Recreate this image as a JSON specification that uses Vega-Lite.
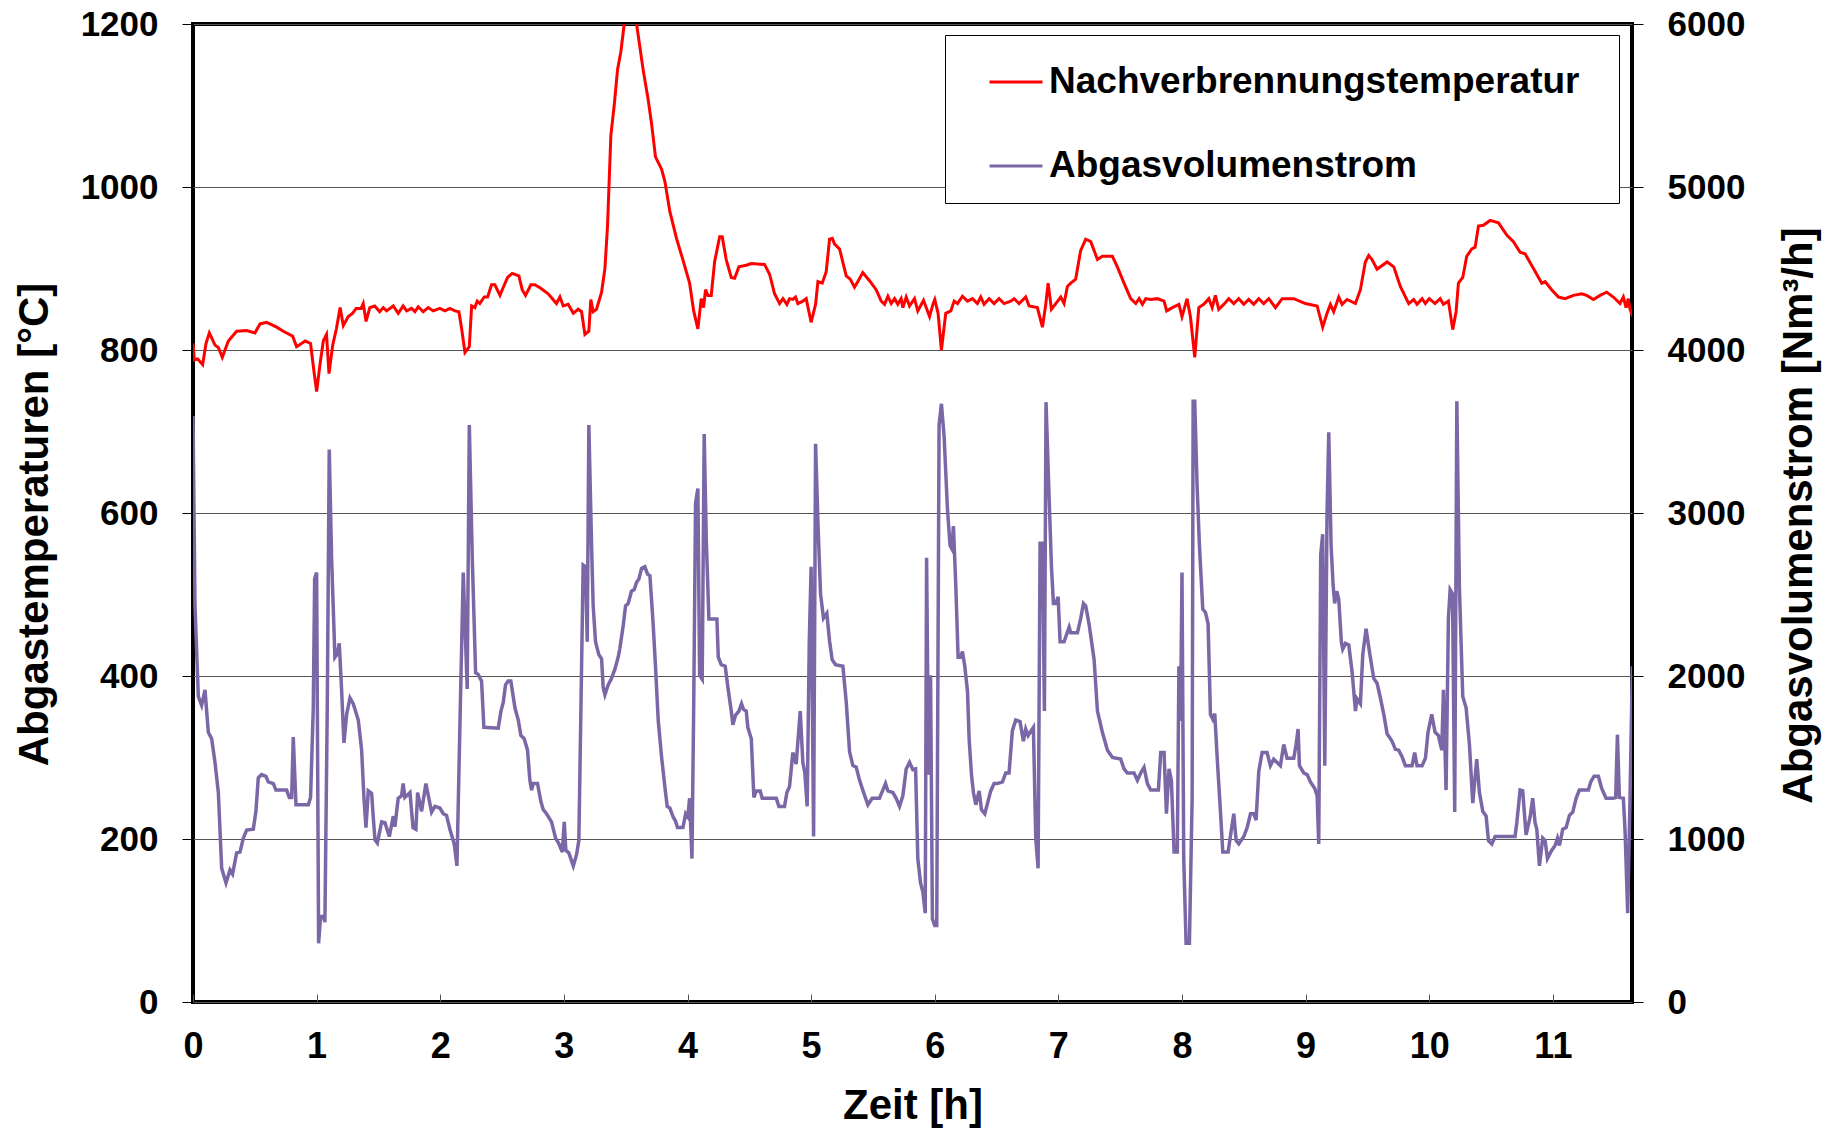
{
  "$schema": "https://vega.github.io/schema/vega-lite/v6.json",
  "width": 1439,
  "height": 978,
  "autosize": {"type": "none"},
  "padding": {"left": 193, "top": 24, "right": 193, "bottom": 126},
  "background": "white",
  "config": {
    "view": {"stroke": "black", "strokeWidth": 4},
    "font": "Liberation Sans",
    "axis": {
      "labelFont": "Liberation Sans",
      "labelFontWeight": "bold",
      "labelFontSize": 35,
      "labelColor": "black",
      "titleFont": "Liberation Sans",
      "titleFontWeight": "bold",
      "titleFontSize": 42,
      "titleColor": "black",
      "domain": false,
      "labelOverlap": false,
      "labelFlush": false
    }
  },
  "datasets": {
    "temp": [
      {"t":0,"v":808},{"t":0.011,"v":788},{"t":0.038,"v":789},{"t":0.078,"v":782},{"t":0.105,"v":808},{"t":0.132,"v":821},{"t":0.178,"v":806},{"t":0.205,"v":803},{"t":0.237,"v":791},{"t":0.286,"v":811},{"t":0.353,"v":823},{"t":0.434,"v":824},{"t":0.501,"v":821},{"t":0.542,"v":832},{"t":0.596,"v":834},{"t":0.677,"v":828},{"t":0.73,"v":823},{"t":0.806,"v":817},{"t":0.838,"v":804},{"t":0.908,"v":811},{"t":0.951,"v":808},{"t":0.978,"v":774},{"t":1.0,"v":749},{"t":1.027,"v":782},{"t":1.054,"v":811},{"t":1.08,"v":819},{"t":1.1,"v":771},{"t":1.13,"v":806},{"t":1.16,"v":826},{"t":1.19,"v":852},{"t":1.216,"v":830},{"t":1.256,"v":841},{"t":1.29,"v":845},{"t":1.32,"v":851},{"t":1.36,"v":851},{"t":1.377,"v":857},{"t":1.4,"v":835},{"t":1.43,"v":852},{"t":1.47,"v":854},{"t":1.51,"v":847},{"t":1.539,"v":852},{"t":1.566,"v":848},{"t":1.62,"v":854},{"t":1.66,"v":845},{"t":1.7,"v":854},{"t":1.728,"v":848},{"t":1.768,"v":851},{"t":1.795,"v":847},{"t":1.822,"v":853},{"t":1.862,"v":847},{"t":1.903,"v":852},{"t":1.943,"v":848},{"t":1.997,"v":851},{"t":2.038,"v":848},{"t":2.078,"v":851},{"t":2.119,"v":848},{"t":2.151,"v":847},{"t":2.173,"v":826},{"t":2.2,"v":797},{"t":2.235,"v":804},{"t":2.254,"v":854},{"t":2.28,"v":852},{"t":2.299,"v":860},{"t":2.32,"v":857},{"t":2.356,"v":865},{"t":2.383,"v":865},{"t":2.415,"v":880},{"t":2.442,"v":880},{"t":2.483,"v":867},{"t":2.51,"v":877},{"t":2.545,"v":889},{"t":2.582,"v":894},{"t":2.636,"v":891},{"t":2.663,"v":874},{"t":2.69,"v":867},{"t":2.733,"v":880},{"t":2.765,"v":880},{"t":2.81,"v":876},{"t":2.873,"v":869},{"t":2.94,"v":857},{"t":2.968,"v":865},{"t":2.995,"v":854},{"t":3.035,"v":856},{"t":3.076,"v":845},{"t":3.116,"v":850},{"t":3.143,"v":847},{"t":3.17,"v":819},{"t":3.202,"v":823},{"t":3.218,"v":862},{"t":3.237,"v":847},{"t":3.264,"v":850},{"t":3.305,"v":871},{"t":3.332,"v":900},{"t":3.353,"v":952},{"t":3.38,"v":1063},{"t":3.407,"v":1100},{"t":3.434,"v":1144},{"t":3.461,"v":1166},{"t":3.488,"v":1200},{"t":3.52,"v":1230},{"t":3.56,"v":1230},{"t":3.588,"v":1200},{"t":3.641,"v":1144},{"t":3.682,"v":1107},{"t":3.709,"v":1078},{"t":3.741,"v":1037},{"t":3.79,"v":1022},{"t":3.817,"v":1007},{"t":3.857,"v":970},{"t":3.911,"v":937},{"t":3.964,"v":910},{"t":4.017,"v":882},{"t":4.05,"v":848},{"t":4.084,"v":826},{"t":4.111,"v":863},{"t":4.13,"v":852},{"t":4.146,"v":874},{"t":4.165,"v":867},{"t":4.192,"v":867},{"t":4.219,"v":908},{"t":4.26,"v":939},{"t":4.281,"v":939},{"t":4.313,"v":911},{"t":4.354,"v":889},{"t":4.381,"v":888},{"t":4.416,"v":902},{"t":4.475,"v":904},{"t":4.516,"v":906},{"t":4.623,"v":905},{"t":4.664,"v":893},{"t":4.704,"v":869},{"t":4.745,"v":857},{"t":4.772,"v":863},{"t":4.804,"v":856},{"t":4.825,"v":863},{"t":4.852,"v":862},{"t":4.874,"v":865},{"t":4.893,"v":857},{"t":4.933,"v":860},{"t":4.96,"v":863},{"t":5.0,"v":834},{"t":5.036,"v":856},{"t":5.055,"v":884},{"t":5.09,"v":882},{"t":5.122,"v":896},{"t":5.149,"v":936},{"t":5.171,"v":937},{"t":5.19,"v":930},{"t":5.23,"v":924},{"t":5.284,"v":891},{"t":5.316,"v":887},{"t":5.351,"v":877},{"t":5.378,"v":884},{"t":5.418,"v":895},{"t":5.472,"v":885},{"t":5.526,"v":874},{"t":5.567,"v":860},{"t":5.594,"v":856},{"t":5.621,"v":866},{"t":5.648,"v":857},{"t":5.675,"v":863},{"t":5.701,"v":856},{"t":5.728,"v":863},{"t":5.742,"v":852},{"t":5.769,"v":865},{"t":5.796,"v":854},{"t":5.836,"v":863},{"t":5.863,"v":848},{"t":5.909,"v":861},{"t":5.958,"v":841},{"t":5.985,"v":856},{"t":6.0,"v":862},{"t":6.027,"v":845},{"t":6.054,"v":800},{"t":6.089,"v":845},{"t":6.13,"v":848},{"t":6.157,"v":860},{"t":6.184,"v":857},{"t":6.224,"v":866},{"t":6.265,"v":860},{"t":6.305,"v":863},{"t":6.345,"v":857},{"t":6.372,"v":865},{"t":6.399,"v":856},{"t":6.44,"v":863},{"t":6.48,"v":857},{"t":6.52,"v":863},{"t":6.561,"v":857},{"t":6.615,"v":860},{"t":6.642,"v":863},{"t":6.682,"v":857},{"t":6.736,"v":865},{"t":6.763,"v":854},{"t":6.83,"v":852},{"t":6.871,"v":828},{"t":6.898,"v":856},{"t":6.917,"v":882},{"t":6.944,"v":850},{"t":6.979,"v":857},{"t":7.019,"v":865},{"t":7.046,"v":857},{"t":7.073,"v":878},{"t":7.1,"v":882},{"t":7.14,"v":887},{"t":7.18,"v":922},{"t":7.221,"v":936},{"t":7.262,"v":933},{"t":7.316,"v":911},{"t":7.356,"v":915},{"t":7.437,"v":915},{"t":7.477,"v":902},{"t":7.531,"v":882},{"t":7.585,"v":863},{"t":7.626,"v":857},{"t":7.653,"v":863},{"t":7.68,"v":856},{"t":7.707,"v":863},{"t":7.747,"v":862},{"t":7.801,"v":863},{"t":7.855,"v":860},{"t":7.876,"v":848},{"t":7.922,"v":852},{"t":7.975,"v":856},{"t":8.0,"v":841},{"t":8.041,"v":863},{"t":8.068,"v":841},{"t":8.103,"v":791},{"t":8.136,"v":852},{"t":8.176,"v":856},{"t":8.217,"v":863},{"t":8.244,"v":852},{"t":8.27,"v":867},{"t":8.297,"v":850},{"t":8.338,"v":856},{"t":8.378,"v":863},{"t":8.419,"v":857},{"t":8.459,"v":863},{"t":8.5,"v":856},{"t":8.54,"v":862},{"t":8.58,"v":856},{"t":8.621,"v":863},{"t":8.661,"v":857},{"t":8.702,"v":863},{"t":8.756,"v":852},{"t":8.81,"v":863},{"t":8.904,"v":863},{"t":8.998,"v":857},{"t":9.093,"v":854},{"t":9.138,"v":828},{"t":9.173,"v":845},{"t":9.2,"v":856},{"t":9.227,"v":847},{"t":9.268,"v":865},{"t":9.295,"v":856},{"t":9.335,"v":862},{"t":9.403,"v":857},{"t":9.443,"v":874},{"t":9.483,"v":908},{"t":9.51,"v":916},{"t":9.537,"v":911},{"t":9.578,"v":899},{"t":9.659,"v":908},{"t":9.713,"v":902},{"t":9.766,"v":878},{"t":9.834,"v":857},{"t":9.874,"v":862},{"t":9.901,"v":856},{"t":9.942,"v":863},{"t":9.969,"v":857},{"t":10.0,"v":863},{"t":10.047,"v":857},{"t":10.088,"v":863},{"t":10.115,"v":856},{"t":10.155,"v":860},{"t":10.19,"v":825},{"t":10.217,"v":847},{"t":10.236,"v":882},{"t":10.271,"v":889},{"t":10.303,"v":915},{"t":10.344,"v":924},{"t":10.371,"v":926},{"t":10.398,"v":952},{"t":10.438,"v":953},{"t":10.492,"v":959},{"t":10.56,"v":956},{"t":10.627,"v":941},{"t":10.681,"v":933},{"t":10.735,"v":920},{"t":10.775,"v":918},{"t":10.843,"v":900},{"t":10.91,"v":882},{"t":10.937,"v":884},{"t":10.99,"v":874},{"t":11.045,"v":865},{"t":11.099,"v":863},{"t":11.166,"v":867},{"t":11.233,"v":869},{"t":11.273,"v":867},{"t":11.328,"v":862},{"t":11.382,"v":867},{"t":11.435,"v":871},{"t":11.489,"v":865},{"t":11.543,"v":857},{"t":11.57,"v":865},{"t":11.592,"v":852},{"t":11.61,"v":863},{"t":11.624,"v":850},{"t":11.646,"v":841}
    ],
    "flow": [
      {"t":0,"v":3595},{"t":0.016,"v":2430},{"t":0.043,"v":1875},{"t":0.07,"v":1820},{"t":0.097,"v":1915},{"t":0.124,"v":1655},{"t":0.151,"v":1615},{"t":0.178,"v":1470},{"t":0.205,"v":1285},{"t":0.232,"v":820},{"t":0.267,"v":730},{"t":0.299,"v":810},{"t":0.32,"v":785},{"t":0.353,"v":915},{"t":0.38,"v":920},{"t":0.407,"v":1005},{"t":0.434,"v":1055},{"t":0.488,"v":1060},{"t":0.509,"v":1170},{"t":0.528,"v":1375},{"t":0.555,"v":1395},{"t":0.59,"v":1385},{"t":0.609,"v":1350},{"t":0.65,"v":1340},{"t":0.671,"v":1300},{"t":0.757,"v":1300},{"t":0.779,"v":1255},{"t":0.798,"v":1255},{"t":0.811,"v":1625},{"t":0.833,"v":1210},{"t":0.933,"v":1210},{"t":0.951,"v":1255},{"t":0.973,"v":1805},{"t":0.984,"v":2595},{"t":1.0,"v":2635},{"t":1.016,"v":360},{"t":1.032,"v":525},{"t":1.054,"v":525},{"t":1.067,"v":490},{"t":1.086,"v":1805},{"t":1.102,"v":3390},{"t":1.121,"v":2725},{"t":1.148,"v":2115},{"t":1.167,"v":2135},{"t":1.183,"v":2200},{"t":1.202,"v":1915},{"t":1.221,"v":1590},{"t":1.243,"v":1765},{"t":1.27,"v":1865},{"t":1.296,"v":1830},{"t":1.337,"v":1730},{"t":1.364,"v":1545},{"t":1.383,"v":1250},{"t":1.399,"v":1070},{"t":1.418,"v":1295},{"t":1.445,"v":1280},{"t":1.458,"v":1135},{"t":1.472,"v":995},{"t":1.491,"v":975},{"t":1.526,"v":1105},{"t":1.553,"v":1100},{"t":1.588,"v":1015},{"t":1.62,"v":1140},{"t":1.633,"v":1075},{"t":1.66,"v":1250},{"t":1.687,"v":1265},{"t":1.7,"v":1340},{"t":1.714,"v":1255},{"t":1.755,"v":1285},{"t":1.78,"v":1070},{"t":1.803,"v":1060},{"t":1.817,"v":1285},{"t":1.849,"v":1170},{"t":1.884,"v":1340},{"t":1.93,"v":1165},{"t":1.957,"v":1200},{"t":1.997,"v":1190},{"t":2.024,"v":1155},{"t":2.051,"v":1145},{"t":2.078,"v":1060},{"t":2.113,"v":970},{"t":2.135,"v":835},{"t":2.159,"v":1695},{"t":2.186,"v":2635},{"t":2.218,"v":1920},{"t":2.235,"v":3540},{"t":2.259,"v":2725},{"t":2.286,"v":2020},{"t":2.307,"v":2010},{"t":2.334,"v":1970},{"t":2.353,"v":1685},{"t":2.469,"v":1680},{"t":2.491,"v":1785},{"t":2.51,"v":1840},{"t":2.528,"v":1945},{"t":2.55,"v":1970},{"t":2.571,"v":1970},{"t":2.604,"v":1805},{"t":2.631,"v":1730},{"t":2.652,"v":1635},{"t":2.679,"v":1615},{"t":2.706,"v":1545},{"t":2.725,"v":1360},{"t":2.739,"v":1300},{"t":2.752,"v":1340},{"t":2.787,"v":1340},{"t":2.814,"v":1230},{"t":2.833,"v":1180},{"t":2.86,"v":1155},{"t":2.9,"v":1105},{"t":2.933,"v":1005},{"t":2.96,"v":970},{"t":2.987,"v":920},{"t":3.003,"v":1105},{"t":3.016,"v":930},{"t":3.04,"v":915},{"t":3.076,"v":835},{"t":3.103,"v":905},{"t":3.121,"v":990},{"t":3.138,"v":1805},{"t":3.156,"v":2680},{"t":3.175,"v":2670},{"t":3.189,"v":2210},{"t":3.202,"v":3540},{"t":3.224,"v":2800},{"t":3.237,"v":2430},{"t":3.256,"v":2210},{"t":3.283,"v":2130},{"t":3.305,"v":2105},{"t":3.318,"v":1930},{"t":3.332,"v":1885},{"t":3.358,"v":1945},{"t":3.385,"v":1985},{"t":3.412,"v":2040},{"t":3.439,"v":2115},{"t":3.453,"v":2170},{"t":3.48,"v":2310},{"t":3.499,"v":2430},{"t":3.52,"v":2445},{"t":3.547,"v":2520},{"t":3.569,"v":2530},{"t":3.588,"v":2575},{"t":3.607,"v":2595},{"t":3.628,"v":2660},{"t":3.655,"v":2670},{"t":3.677,"v":2625},{"t":3.696,"v":2615},{"t":3.722,"v":2320},{"t":3.741,"v":2060},{"t":3.763,"v":1730},{"t":3.79,"v":1505},{"t":3.817,"v":1320},{"t":3.836,"v":1200},{"t":3.857,"v":1190},{"t":3.884,"v":1135},{"t":3.903,"v":1110},{"t":3.919,"v":1070},{"t":3.963,"v":1070},{"t":3.985,"v":1155},{"t":4.003,"v":1135},{"t":4.017,"v":1250},{"t":4.036,"v":880},{"t":4.05,"v":1805},{"t":4.065,"v":3060},{"t":4.084,"v":3150},{"t":4.098,"v":2005},{"t":4.119,"v":1980},{"t":4.135,"v":3485},{"t":4.152,"v":2835},{"t":4.173,"v":2350},{"t":4.238,"v":2350},{"t":4.249,"v":2115},{"t":4.273,"v":2070},{"t":4.305,"v":2060},{"t":4.327,"v":1930},{"t":4.354,"v":1785},{"t":4.367,"v":1700},{"t":4.389,"v":1760},{"t":4.416,"v":1785},{"t":4.437,"v":1830},{"t":4.453,"v":1795},{"t":4.475,"v":1785},{"t":4.488,"v":1685},{"t":4.516,"v":1615},{"t":4.537,"v":1255},{"t":4.556,"v":1295},{"t":4.588,"v":1295},{"t":4.604,"v":1250},{"t":4.718,"v":1250},{"t":4.739,"v":1200},{"t":4.785,"v":1200},{"t":4.804,"v":1285},{"t":4.825,"v":1320},{"t":4.852,"v":1530},{"t":4.879,"v":1460},{"t":4.912,"v":1785},{"t":4.933,"v":1470},{"t":4.949,"v":1405},{"t":4.968,"v":1200},{"t":4.985,"v":2210},{"t":5.0,"v":2670},{"t":5.02,"v":1015},{"t":5.036,"v":3425},{"t":5.055,"v":2945},{"t":5.076,"v":2505},{"t":5.1,"v":2355},{"t":5.127,"v":2385},{"t":5.149,"v":2215},{"t":5.17,"v":2100},{"t":5.197,"v":2070},{"t":5.257,"v":2060},{"t":5.284,"v":1840},{"t":5.311,"v":1535},{"t":5.338,"v":1450},{"t":5.365,"v":1440},{"t":5.392,"v":1360},{"t":5.418,"v":1300},{"t":5.459,"v":1210},{"t":5.494,"v":1250},{"t":5.553,"v":1250},{"t":5.58,"v":1300},{"t":5.602,"v":1340},{"t":5.621,"v":1295},{"t":5.661,"v":1285},{"t":5.688,"v":1250},{"t":5.715,"v":1200},{"t":5.742,"v":1265},{"t":5.769,"v":1430},{"t":5.796,"v":1470},{"t":5.823,"v":1425},{"t":5.845,"v":1430},{"t":5.863,"v":880},{"t":5.885,"v":730},{"t":5.904,"v":675},{"t":5.923,"v":545},{"t":5.934,"v":2725},{"t":5.95,"v":1395},{"t":5.966,"v":2005},{"t":5.981,"v":510},{"t":6.0,"v":470},{"t":6.016,"v":470},{"t":6.035,"v":3540},{"t":6.054,"v":3670},{"t":6.076,"v":3465},{"t":6.103,"v":3020},{"t":6.124,"v":2800},{"t":6.138,"v":2780},{"t":6.151,"v":2920},{"t":6.17,"v":2560},{"t":6.189,"v":2115},{"t":6.21,"v":2115},{"t":6.224,"v":2150},{"t":6.243,"v":2060},{"t":6.265,"v":1905},{"t":6.278,"v":1615},{"t":6.297,"v":1395},{"t":6.313,"v":1285},{"t":6.332,"v":1210},{"t":6.359,"v":1295},{"t":6.378,"v":1180},{"t":6.405,"v":1155},{"t":6.453,"v":1295},{"t":6.48,"v":1340},{"t":6.507,"v":1340},{"t":6.548,"v":1350},{"t":6.574,"v":1405},{"t":6.601,"v":1405},{"t":6.628,"v":1665},{"t":6.655,"v":1730},{"t":6.69,"v":1720},{"t":6.717,"v":1600},{"t":6.736,"v":1675},{"t":6.755,"v":1635},{"t":6.798,"v":1685},{"t":6.817,"v":1005},{"t":6.836,"v":820},{"t":6.852,"v":2815},{"t":6.871,"v":2815},{"t":6.887,"v":1785},{"t":6.9,"v":3680},{"t":6.925,"v":3095},{"t":6.944,"v":2670},{"t":6.96,"v":2445},{"t":6.979,"v":2445},{"t":6.998,"v":2485},{"t":7.014,"v":2210},{"t":7.046,"v":2210},{"t":7.087,"v":2300},{"t":7.1,"v":2265},{"t":7.154,"v":2265},{"t":7.181,"v":2355},{"t":7.203,"v":2445},{"t":7.221,"v":2430},{"t":7.248,"v":2320},{"t":7.289,"v":2100},{"t":7.316,"v":1785},{"t":7.356,"v":1655},{"t":7.397,"v":1545},{"t":7.437,"v":1500},{"t":7.504,"v":1490},{"t":7.531,"v":1430},{"t":7.558,"v":1405},{"t":7.612,"v":1405},{"t":7.639,"v":1360},{"t":7.666,"v":1405},{"t":7.693,"v":1440},{"t":7.72,"v":1340},{"t":7.747,"v":1300},{"t":7.809,"v":1300},{"t":7.828,"v":1530},{"t":7.855,"v":1530},{"t":7.874,"v":1155},{"t":7.895,"v":1430},{"t":7.914,"v":1360},{"t":7.936,"v":920},{"t":7.962,"v":920},{"t":7.975,"v":2060},{"t":7.988,"v":1725},{"t":8.0,"v":2635},{"t":8.014,"v":880},{"t":8.033,"v":360},{"t":8.06,"v":360},{"t":8.082,"v":1250},{"t":8.09,"v":3685},{"t":8.103,"v":3685},{"t":8.122,"v":3170},{"t":8.141,"v":2800},{"t":8.168,"v":2410},{"t":8.19,"v":2390},{"t":8.211,"v":2320},{"t":8.23,"v":1765},{"t":8.249,"v":1735},{"t":8.265,"v":1770},{"t":8.284,"v":1505},{"t":8.311,"v":1170},{"t":8.33,"v":920},{"t":8.373,"v":920},{"t":8.4,"v":1060},{"t":8.419,"v":1155},{"t":8.438,"v":990},{"t":8.459,"v":970},{"t":8.5,"v":1015},{"t":8.527,"v":1070},{"t":8.554,"v":1155},{"t":8.581,"v":1155},{"t":8.599,"v":1115},{"t":8.621,"v":1415},{"t":8.648,"v":1530},{"t":8.688,"v":1530},{"t":8.715,"v":1450},{"t":8.742,"v":1490},{"t":8.769,"v":1470},{"t":8.796,"v":1450},{"t":8.823,"v":1580},{"t":8.85,"v":1495},{"t":8.904,"v":1495},{"t":8.923,"v":1580},{"t":8.939,"v":1675},{"t":8.95,"v":1450},{"t":8.985,"v":1405},{"t":9.012,"v":1395},{"t":9.039,"v":1350},{"t":9.074,"v":1310},{"t":9.093,"v":1265},{"t":9.106,"v":970},{"t":9.122,"v":2745},{"t":9.138,"v":2870},{"t":9.155,"v":1450},{"t":9.173,"v":2985},{"t":9.187,"v":3495},{"t":9.206,"v":2800},{"t":9.222,"v":2560},{"t":9.235,"v":2445},{"t":9.252,"v":2520},{"t":9.268,"v":2470},{"t":9.289,"v":2210},{"t":9.3,"v":2165},{"t":9.322,"v":2200},{"t":9.349,"v":2190},{"t":9.376,"v":2025},{"t":9.403,"v":1785},{"t":9.416,"v":1860},{"t":9.443,"v":1830},{"t":9.462,"v":2130},{"t":9.489,"v":2290},{"t":9.516,"v":2150},{"t":9.551,"v":1985},{"t":9.578,"v":1955},{"t":9.605,"v":1865},{"t":9.632,"v":1765},{"t":9.659,"v":1645},{"t":9.678,"v":1625},{"t":9.699,"v":1600},{"t":9.726,"v":1550},{"t":9.753,"v":1545},{"t":9.78,"v":1505},{"t":9.807,"v":1450},{"t":9.861,"v":1450},{"t":9.882,"v":1530},{"t":9.901,"v":1450},{"t":9.942,"v":1450},{"t":9.969,"v":1495},{"t":9.99,"v":1655},{"t":10.02,"v":1765},{"t":10.047,"v":1655},{"t":10.074,"v":1635},{"t":10.101,"v":1545},{"t":10.115,"v":1915},{"t":10.136,"v":1300},{"t":10.155,"v":2355},{"t":10.169,"v":2530},{"t":10.188,"v":2505},{"t":10.206,"v":1165},{"t":10.223,"v":3685},{"t":10.244,"v":2540},{"t":10.271,"v":1875},{"t":10.298,"v":1805},{"t":10.325,"v":1580},{"t":10.352,"v":1220},{"t":10.384,"v":1490},{"t":10.406,"v":1285},{"t":10.433,"v":1170},{"t":10.46,"v":1140},{"t":10.479,"v":990},{"t":10.506,"v":970},{"t":10.533,"v":1015},{"t":10.694,"v":1015},{"t":10.708,"v":1100},{"t":10.735,"v":1300},{"t":10.756,"v":1295},{"t":10.783,"v":1025},{"t":10.816,"v":1135},{"t":10.837,"v":1250},{"t":10.856,"v":1100},{"t":10.87,"v":1060},{"t":10.891,"v":835},{"t":10.918,"v":1005},{"t":10.937,"v":990},{"t":10.956,"v":880},{"t":10.99,"v":930},{"t":11.018,"v":960},{"t":11.037,"v":1005},{"t":11.053,"v":960},{"t":11.08,"v":1060},{"t":11.107,"v":1070},{"t":11.134,"v":1145},{"t":11.161,"v":1165},{"t":11.188,"v":1250},{"t":11.214,"v":1300},{"t":11.287,"v":1300},{"t":11.306,"v":1350},{"t":11.333,"v":1385},{"t":11.368,"v":1385},{"t":11.395,"v":1310},{"t":11.43,"v":1250},{"t":11.489,"v":1250},{"t":11.508,"v":1255},{"t":11.522,"v":1640},{"t":11.538,"v":1255},{"t":11.57,"v":1250},{"t":11.584,"v":1050},{"t":11.605,"v":545},{"t":11.624,"v":1250},{"t":11.643,"v":2060}
    ]
  },
  "layer": [
    {
      "data": {"name": "flow"},
      "mark": {"type": "line", "strokeWidth": 3.5, "clip": true},
      "encoding": {
        "x": {
          "field": "t", "type": "quantitative",
          "scale": {"domain": [0, 11.64], "nice": false, "zero": false},
          "axis": {
            "title": "Zeit [h]",
            "values": [0, 1, 2, 3, 4, 5, 6, 7, 8, 9, 10, 11],
            "format": "d",
            "grid": false,
            "tickSize": -8,
            "tickColor": "#555555",
            "labelFontSize": 36,
            "labelPadding": 63,
            "labelBaseline": "alphabetic",
            "titleBaseline": "alphabetic",
            "titleY": 116
          }
        },
        "y": {
          "field": "v", "type": "quantitative",
          "scale": {"domain": [0, 6000], "nice": false},
          "axis": {
            "orient": "right",
            "title": "Abgasvolumenstrom [Nm³/h]",
            "values": [0, 1000, 2000, 3000, 4000, 5000, 6000],
            "format": "d",
            "grid": false,
            "tickSize": 11,
            "tickColor": "black",
            "labelPadding": 24,
            "labelAlign": "left",
            "titleAngle": 270,
            "titleAlign": "center",
            "titleBaseline": "alphabetic",
            "titleX": 179,
            "titleY": 491
          }
        },
        "color": {
          "datum": "Abgasvolumenstrom", "type": "nominal",
          "scale": {"domain": ["Nachverbrennungstemperatur", "Abgasvolumenstrom"], "range": ["#FF0000", "#7B67A6"]}
        }
      }
    },
    {
      "data": {"name": "temp"},
      "mark": {"type": "line", "strokeWidth": 3, "clip": true},
      "encoding": {
        "x": {
          "field": "t", "type": "quantitative",
          "scale": {"domain": [0, 11.64], "nice": false, "zero": false},
          "axis": {
            "title": "Zeit [h]",
            "values": [0, 1, 2, 3, 4, 5, 6, 7, 8, 9, 10, 11],
            "format": "d",
            "grid": false,
            "tickSize": -8,
            "tickColor": "#555555",
            "labelFontSize": 36,
            "labelPadding": 63,
            "labelBaseline": "alphabetic",
            "titleBaseline": "alphabetic",
            "titleY": 116
          }
        },
        "y": {
          "field": "v", "type": "quantitative",
          "scale": {"domain": [0, 1200], "nice": false},
          "axis": {
            "orient": "left",
            "title": "Abgastemperaturen [°C]",
            "values": [0, 200, 400, 600, 800, 1000, 1200],
            "format": "d",
            "grid": true,
            "gridColor": "#555555",
            "gridWidth": 1,
            "tickSize": 11,
            "tickColor": "black",
            "labelPadding": 24,
            "titleAngle": 270,
            "titleAlign": "center",
            "titleBaseline": "alphabetic",
            "titleX": -146,
            "titleY": 500
          }
        },
        "color": {
          "datum": "Nachverbrennungstemperatur", "type": "nominal",
          "legend": {
            "title": " ",
            "titleOrient": "right",
            "titlePadding": 21,
            "titleFontSize": 1,
            "orient": "none",
            "legendX": 752,
            "legendY": 11,
            "direction": "vertical",
            "fillColor": "white",
            "strokeColor": "black",
            "padding": 19,
            "symbolType": "stroke",
            "symbolSize": 2809,
            "symbolStrokeWidth": 3,
            "symbolOffset": 24,
            "labelFont": "Liberation Sans",
            "labelFontSize": 37,
            "labelFontWeight": "bold",
            "labelColor": "black",
            "labelOffset": 5,
            "labelLimit": 800,
            "rowPadding": 38
          }
        }
      }
    }
  ],
  "resolve": {"scale": {"y": "independent"}}
}
